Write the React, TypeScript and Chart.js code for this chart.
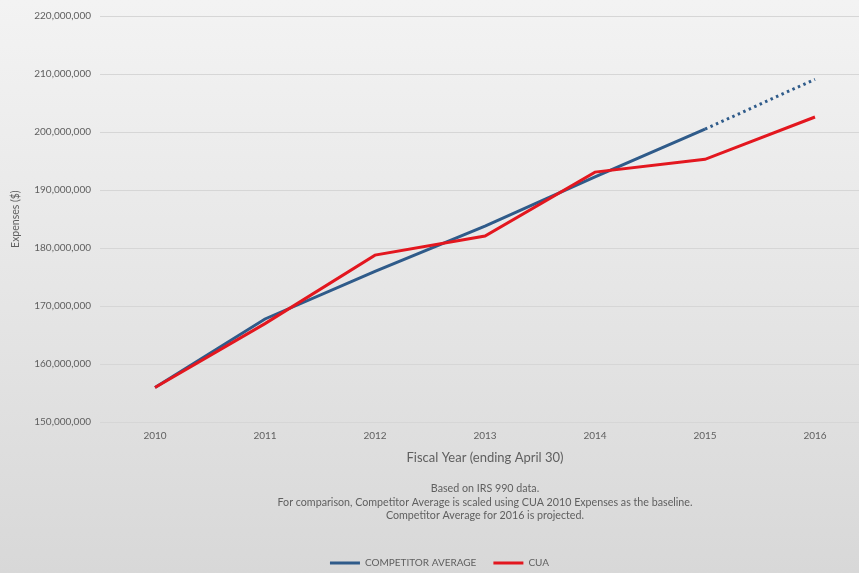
import React, { useEffect, useRef } from "react";
import { Chart, registerables } from "chart.js";

Chart.register(...registerables);

// Fiscal years (ending April 30)
const years = ["2010", "2011", "2012", "2013", "2014", "2015", "2016"];

// Competitor average, scaled to the CUA 2010 baseline; 2016 is a projection
const competitorAverage = [156000000, 167800000, 176000000, 183800000, 192300000, 200500000, 209100000];

// CUA expenses
const cuaExpenses = [156000000, 167000000, 178800000, 182100000, 193100000, 195300000, 202600000];

const yMin = 150000000;
const yMax = 220000000;
const yStep = 10000000;

const notes = [
  "Based on IRS 990 data.",
  "For comparison, Competitor Average is scaled using CUA 2010 Expenses as the baseline.",
  "Competitor Average for 2016 is projected.",
];

const FONT = "Lato, 'Open Sans', sans-serif";
const TEXT = "#5f5f5f";
const BLUE = "#2f5b8a";
const RED = "#e3171f";
const PROJECTED_FROM = years.indexOf("2016");

export default function App() {
  const canvasRef = useRef<HTMLCanvasElement | null>(null);

  useEffect(() => {
    if (!canvasRef.current) return;
    const chart = new Chart(canvasRef.current, {
      type: "line",
      data: {
        labels: years,
        datasets: [
          {
            label: "COMPETITOR AVERAGE",
            data: competitorAverage,
            borderColor: BLUE,
            backgroundColor: BLUE,
            borderWidth: 3,
            pointRadius: 0,
            tension: 0,
            order: 1,
            segment: {
              borderDash: (ctx: any) => (ctx.p1DataIndex === PROJECTED_FROM ? [2.5, 3.5] : undefined),
            },
          },
          {
            label: "CUA",
            data: cuaExpenses,
            borderColor: RED,
            backgroundColor: RED,
            borderWidth: 3,
            pointRadius: 0,
            tension: 0,
            order: 0,
          },
        ],
      },
      options: {
        responsive: false,
        animation: false,
        layout: { padding: { top: 16, left: 9, right: 6, bottom: 0 } },
        scales: {
          x: {
            offset: true,
            grid: { display: false, drawTicks: false },
            border: { display: false },
            ticks: { color: TEXT, padding: 8, font: { family: FONT, size: 10 } },
            title: {
              display: true,
              text: "Fiscal Year (ending April 30)",
              color: TEXT,
              padding: { top: 1, bottom: 0 },
              font: { family: FONT, size: 13, lineHeight: 1 },
            },
          },
          y: {
            min: yMin,
            max: yMax,
            afterFit: (scale: any) => {
              scale.width = 91;
            },
            grid: { color: "#d6d6d6", lineWidth: 1, drawTicks: false },
            border: { display: false },
            ticks: {
              stepSize: yStep,
              padding: 9,
              color: TEXT,
              font: { family: FONT, size: 10 },
              callback: (v: any) => Number(v).toLocaleString("en-US"),
            },
            title: {
              display: true,
              text: "Expenses ($)",
              color: TEXT,
              padding: { top: 0, bottom: 0 },
              font: { family: FONT, size: 10.5 },
            },
          },
        },
        plugins: {
          tooltip: { enabled: false },
          subtitle: {
            display: true,
            position: "bottom",
            fullSize: false,
            text: notes,
            color: TEXT,
            font: { family: FONT, size: 10.7, lineHeight: 1.3 },
            padding: { top: 17, bottom: 18 },
          },
          legend: {
            position: "bottom",
            weight: 2500,
            labels: {
              color: TEXT,
              font: { family: FONT, size: 10 },
              boxWidth: 30,
              boxHeight: 3,
              padding: 17,
              sort: (a: any, b: any) => a.datasetIndex - b.datasetIndex,
              generateLabels: (c: any) =>
                Chart.defaults.plugins.legend.labels.generateLabels(c).map((item: any) => ({
                  ...item,
                  lineWidth: 0,
                  lineDash: [],
                  fillStyle: item.strokeStyle,
                })),
            },
          },
        } as any,
      },
    });
    return () => chart.destroy();
  }, []);

  return (
    <div
      style={{
        position: "fixed",
        left: 0,
        top: 0,
        width: 859,
        height: 573,
        overflow: "hidden",
        background: "linear-gradient(to bottom, #f3f3f3 0%, #e6e6e6 50%, #d8d8d8 100%)",
      }}
    >
      <canvas ref={canvasRef} width={876} height={578} style={{ display: "block" }} />
    </div>
  );
}
